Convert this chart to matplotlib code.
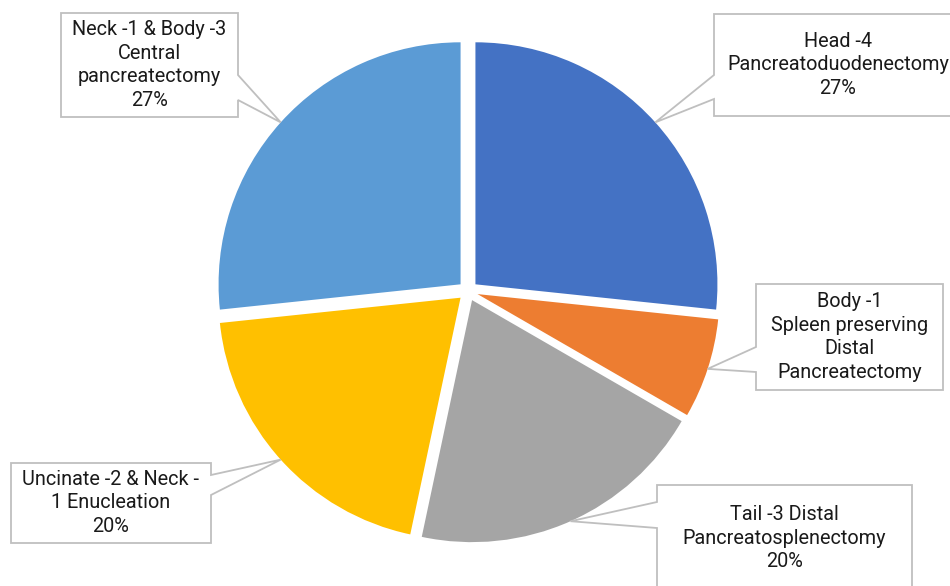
import matplotlib
matplotlib.use("Agg")
import matplotlib.pyplot as plt
import numpy as np
from matplotlib.patches import Polygon

# ==========================
# Data
# ==========================
labels = [
    "Head -4\nPancreatoduodenectomy",
    "Body -1\nSpleen preserving\nDistal\nPancreatectomy",
    "Tail -3 Distal\nPancreatosplenectomy",
    "Uncinate -2 & Neck -\n1 Enucleation",
    "Neck -1 & Body -3\nCentral\npancreatectomy",
]
counts = [4, 1, 3, 3, 4]
show_pct = [True, False, True, True, True]
colors = ["#4472C4", "#ED7D31", "#A5A5A5", "#FFC000", "#5B9BD5"]

# callout layout in pixels (box x0, y0, x1, y1, side, y_a, y_b)
callouts = [
    (714, 14, 962, 116, "left", 75, 99),
    (756, 284, 943, 390, "left", 347, 372),
    (657, 485, 912, 591, "left", 502, 528),
    (11, 463, 211, 543, "right", 475, 495),
    (61, 13, 238, 117, "right", 75, 100),
]

W, H = 950, 586
fig = plt.figure(figsize=(W / 100, H / 100), dpi=100)
ax = fig.add_axes([0, 0, 1, 1])

cx, cy, r = 468, 291, 242
wedges, _ = ax.pie(
    counts,
    colors=colors,
    startangle=-90,
    counterclock=True,
    center=(cx, cy),
    radius=r,
    explode=[10] * len(counts),
    wedgeprops=dict(linewidth=0),
)
ax.set_xlim(0, W)
ax.set_ylim(H, 0)
ax.set_aspect("equal")
ax.axis("off")

total = sum(counts)
for w, lab, n, pct, (x0, y0, x1, y1, side, ya, yb) in zip(
    wedges, labels, counts, show_pct, callouts
):
    # tip point sits on the arc at the middle of the slice
    th = np.deg2rad((w.theta1 + w.theta2) / 2)
    tx = w.center[0] + w.r * np.cos(th)
    ty = w.center[1] + w.r * np.sin(th)
    if side == "left":
        pts = [(x0, y0), (x1, y0), (x1, y1), (x0, y1), (x0, yb), (tx, ty), (x0, ya)]
    else:
        pts = [(x0, y0), (x1, y0), (x1, ya), (tx, ty), (x1, yb), (x1, y1), (x0, y1)]
    ax.add_patch(Polygon(pts, closed=True, facecolor="white", edgecolor="#BFBFBF",
                         linewidth=1.3, zorder=3))
    txt = lab
    if pct:
        txt += f"\n{round(n / total * 100)}%"
    ax.text((x0 + x1) / 2, (y0 + y1) / 2, txt,
            ha="center", va="center", fontsize=14.3, family="Roboto",
            color="#1a1a1a", linespacing=1.33, zorder=4)

fig.savefig("out.png", dpi=100)
